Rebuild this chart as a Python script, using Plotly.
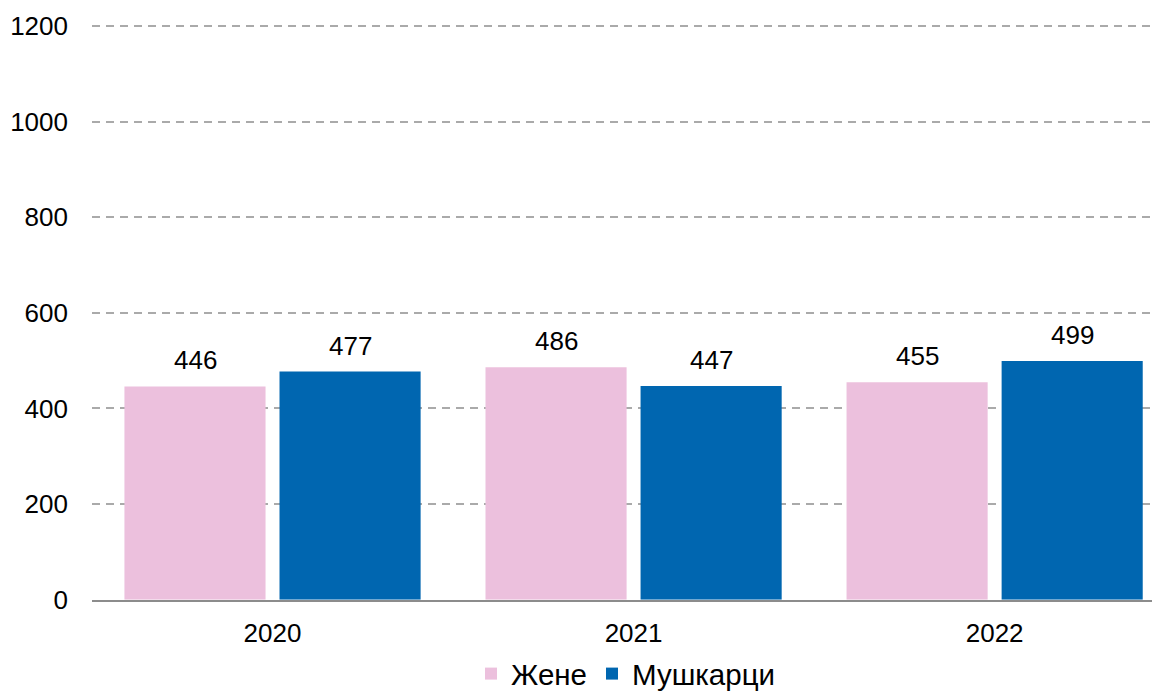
import plotly.graph_objects as go

years = ["2020", "2021", "2022"]
women = [446, 486, 455]
men = [477, 447, 499]
series_names = ["Жене", "Мушкарци"]
colors = ["#ECC0DD", "#0066B0"]

fig = go.Figure()
fig.add_trace(go.Bar(x=years, y=women, name=series_names[0], marker_color=colors[0],
                     marker_line_width=0))
fig.add_trace(go.Bar(x=years, y=men, name=series_names[1], marker_color=colors[1],
                     marker_line_width=0))

annotations = []
for i, (w, m) in enumerate(zip(women, men)):
    for off, v in ((-0.2147, w), (0.2147, m)):
        annotations.append(dict(x=i + off, y=v, xref="x", yref="y", text=str(v),
                                showarrow=False, yshift=26,
                                font=dict(size=26, color="#000000")))

fig.update_layout(
    width=1152, height=683,
    margin=dict(l=84, r=0, t=15, b=89),
    paper_bgcolor="white", plot_bgcolor="white",
    barmode="group", bargap=0.141, bargroupgap=0.09,
    font=dict(family="Liberation Sans, Arial, sans-serif", size=26, color="#000000"),
    annotations=annotations,
    legend=dict(orientation="h", x=0.5, xanchor="center", xref="paper",
                yref="container", y=0.025, yanchor="middle",
                font=dict(size=29.5), traceorder="normal"),
    xaxis=dict(type="category", range=[-0.5, 2.458], showline=True, linecolor="#8C8C8C",
               linewidth=2, ticks="", tickfont=dict(size=26), showgrid=False,
               ticklabelstandoff=9),
    yaxis=dict(range=[0, 1206], tickvals=[0, 200, 400, 600, 800, 1000, 1200],
               showgrid=True, gridcolor="#AAAAAA", gridwidth=2, griddash="8px,6px",
               zeroline=False, showline=False, ticks="", tickfont=dict(size=26),
               ticklabelstandoff=23),
)
fig.write_html("out.html")
